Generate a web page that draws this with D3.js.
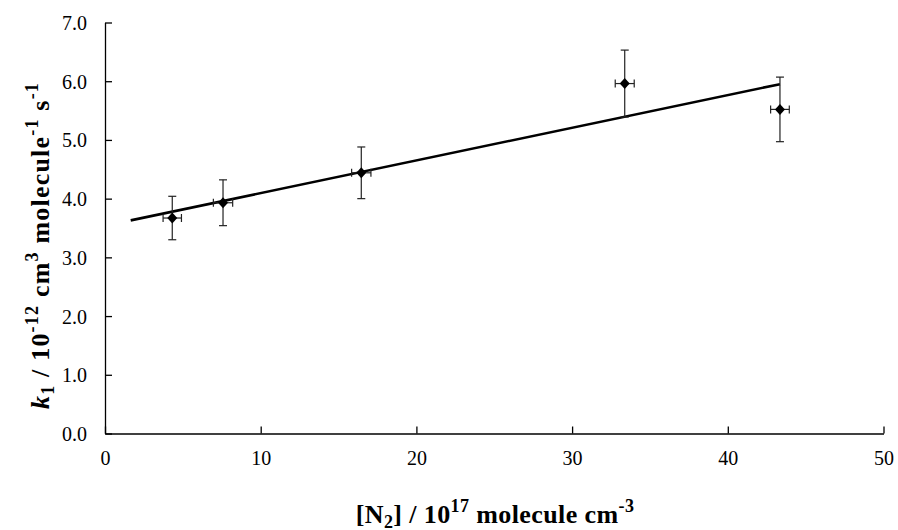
<!DOCTYPE html>
<html>
<head>
<meta charset="utf-8">
<script src="https://cdn.jsdelivr.net/npm/d3@7"></script>
<style>
    body { margin: 0; background: #fff; }
    .axis path, .axis line { stroke: #000; stroke-width: 1.3px; }
    .axis_title { font-family: "Liberation Serif", "Times New Roman", serif; font-size: 26px; font-weight: bold; fill: #000; }
</style>
</head>
<body>
<div id="chart"></div>
<script>

// data
let n2 = [4.32, 7.58, 16.46, 33.38, 43.35];     // [N2] / 1e17 molecule cm-3
let n2Err = [0.59, 0.62, 0.62, 0.61, 0.60];
let k1 = [3.67, 3.93, 4.44, 5.96, 5.52];        // k1 / 1e-12 cm3 molecule-1 s-1
let k1Err = [0.37, 0.39, 0.44, 0.57, 0.55];

// linear fit end points
let fitX = [1.65, 43.35];
let fitY = [3.63, 5.95];

let xTicks = [0, 10, 20, 30, 40, 50];
let yTicks = [0, 1, 2, 3, 4, 5, 6, 7];

let totalW = 898, totalH = 530;
let margin = { top: 22.5, right: 14.5, bottom: 96.5, left: 105 };
let width = totalW - margin.left - margin.right;
let height = totalH - margin.top - margin.bottom;
let serif = "Liberation Serif";

let svg = d3.select("#chart").append("svg")
    .attr("width", totalW)
    .attr("height", totalH)
    .append("g")
    .attr("transform", "translate(" + margin.left + "," + margin.top + ")");

let xScale = d3.scaleLinear().domain([0, 50]).range([0, width]);
let yScale = d3.scaleLinear().domain([0, 7]).range([height, 0]);

// axes, ticks point inwards
let xAxis = d3.axisBottom(xScale)
    .tickValues(xTicks)
    .tickSizeInner(-7)
    .tickSizeOuter(0)
    .tickPadding(17)
    .tickFormat(d3.format("d"));

let yAxis = d3.axisLeft(yScale)
    .tickValues(yTicks)
    .tickSizeInner(-7)
    .tickSizeOuter(0)
    .tickPadding(18)
    .tickFormat(d3.format(".1f"));

svg.append("g")
    .attr("class", "x-axis axis")
    .attr("transform", "translate(0," + height + ")")
    .call(xAxis);

svg.append("g")
    .attr("class", "y-axis axis")
    .call(yAxis);

svg.selectAll(".axis .tick text")
    .attr("font-family", serif)
    .attr("font-size", 20)
    .attr("fill", "#000");
svg.selectAll(".y-axis .tick text").attr("dy", "0.35em");

// fit line
let fitData = fitX.map((x, i) => ({ x: x, y: fitY[i] }));
svg.append("path")
    .datum(fitData)
    .attr("d", d3.line().x(d => xScale(d.x)).y(d => yScale(d.y)))
    .attr("fill", "none")
    .attr("stroke", "#000")
    .attr("stroke-width", 2.6);

let points = n2.map((x, i) => ({ x: x, xe: n2Err[i], y: k1[i], ye: k1Err[i] }));
let cap = 4;

let bars = svg.selectAll(".errbar")
    .data(points)
    .enter()
    .append("g")
    .attr("class", "errbar")
    .attr("stroke", "#222")
    .attr("stroke-width", 1.2);

// vertical error bars
bars.append("line")
    .attr("x1", d => xScale(d.x)).attr("x2", d => xScale(d.x))
    .attr("y1", d => yScale(d.y - d.ye)).attr("y2", d => yScale(d.y + d.ye));
bars.append("line")
    .attr("x1", d => xScale(d.x) - cap).attr("x2", d => xScale(d.x) + cap)
    .attr("y1", d => yScale(d.y + d.ye)).attr("y2", d => yScale(d.y + d.ye));
bars.append("line")
    .attr("x1", d => xScale(d.x) - cap).attr("x2", d => xScale(d.x) + cap)
    .attr("y1", d => yScale(d.y - d.ye)).attr("y2", d => yScale(d.y - d.ye));

// horizontal error bars
bars.append("line")
    .attr("x1", d => xScale(d.x - d.xe)).attr("x2", d => xScale(d.x + d.xe))
    .attr("y1", d => yScale(d.y)).attr("y2", d => yScale(d.y));
bars.append("line")
    .attr("x1", d => xScale(d.x - d.xe)).attr("x2", d => xScale(d.x - d.xe))
    .attr("y1", d => yScale(d.y) - cap).attr("y2", d => yScale(d.y) + cap);
bars.append("line")
    .attr("x1", d => xScale(d.x + d.xe)).attr("x2", d => xScale(d.x + d.xe))
    .attr("y1", d => yScale(d.y) - cap).attr("y2", d => yScale(d.y) + cap);

// diamond markers
svg.selectAll(".marker")
    .data(points)
    .enter()
    .append("path")
    .attr("class", "marker")
    .attr("d", "M0,-5.5L5,0L0,5.5L-5,0Z")
    .attr("transform", d => "translate(" + xScale(d.x) + "," + yScale(d.y) + ")")
    .attr("fill", "#000");

// x axis title
let xt = svg.append("text")
    .attr("class", "axis_title")
    .attr("x", 390)
    .attr("y", height + 89)
    .attr("letter-spacing", "0.4px")
    .attr("text-anchor", "middle");
xt.append("tspan").text("[N");
xt.append("tspan").attr("font-size", "18px").attr("dy", 5).text("2");
xt.append("tspan").attr("dy", -5).text("] / 10");
xt.append("tspan").attr("font-size", "18px").attr("dy", -11).text("17");
xt.append("tspan").attr("dy", 11).text(" molecule cm");
xt.append("tspan").attr("font-size", "18px").attr("dy", -11).text("-3");

// y axis title
let yt = svg.append("text")
    .attr("class", "axis_title")
    .attr("transform", "translate(" + (-56) + "," + 223 + ")rotate(-90)")
    .attr("letter-spacing", "1.2px")
    .attr("text-anchor", "middle");
yt.append("tspan").attr("font-style", "italic").text("k");
yt.append("tspan").attr("font-size", "18px").attr("dy", 5).text("1");
yt.append("tspan").attr("dy", -5).text(" / 10");
yt.append("tspan").attr("font-size", "18px").attr("dy", -11).text("-12");
yt.append("tspan").attr("dy", 11).text(" cm");
yt.append("tspan").attr("font-size", "18px").attr("dy", -11).text("3");
yt.append("tspan").attr("dy", 11).text(" molecule");
yt.append("tspan").attr("font-size", "18px").attr("dy", -11).text("-1");
yt.append("tspan").attr("dy", 11).text(" s");
yt.append("tspan").attr("font-size", "18px").attr("dy", -11).text("-1");

</script>
</body>
</html>
